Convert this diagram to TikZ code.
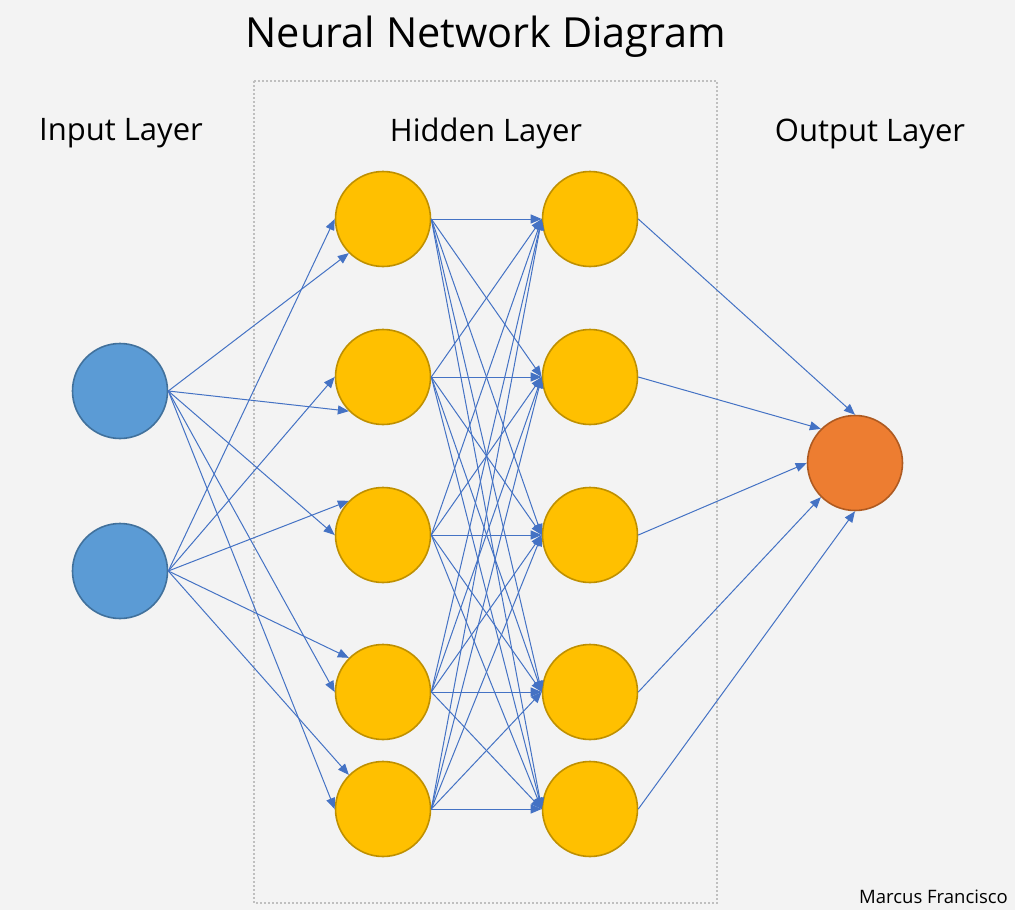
\documentclass[tikz,border=0pt]{standalone}
\usepackage{fontspec}
\setmainfont{Open Sans}
\usetikzlibrary{arrows.meta}
\definecolor{bgcol}{HTML}{F3F3F3}
\definecolor{inblue}{HTML}{5B9BD5}
\definecolor{inline}{HTML}{41719C}
\definecolor{hidgold}{HTML}{FFC000}
\definecolor{hidline}{HTML}{BF9000}
\definecolor{outorange}{HTML}{ED7D31}
\definecolor{outline}{HTML}{AE5A21}
\definecolor{linkblue}{HTML}{4472C4}
\tikzset{
x=1pt, y=-1pt, % one unit is one pixel of the sketch, y grows downwards
neuron/.style={circle, minimum size=95pt, inner sep=0pt, line width=1.6pt}, % base for every unit
input/.style={neuron, fill=inblue, draw=inline},
hidden/.style={neuron, fill=hidgold, draw=hidline},
output/.style={neuron, fill=outorange, draw=outline},
link/.style={draw=linkblue, line width=1pt, -{Triangle[length=11pt,width=9pt]}}, % weighted connection
heading/.style={font=\fontsize{31}{37}\selectfont, anchor=base, inner sep=0pt},
}

\begin{document}
\begin{tikzpicture}
        \fill[bgcol] (0,0) rectangle (1015,910);
        \draw[black!25, line width=1.5pt, dash pattern=on 2pt off 2pt] (254,81) rectangle (717,903);

        \node[anchor=base, inner sep=0pt, font=\fontsize{41.5}{48}\selectfont] (title) at (486,47) {Neural Network Diagram};
        \node[heading] (inlabel) at (121,140) {Input Layer};
        \node[heading] (hidlabel) at (486,141) {Hidden Layer};
        \node[heading] (outlabel) at (870,141) {Output Layer};
        \node[anchor=base east, inner sep=0pt, font=\fontsize{18.5}{22}\selectfont] (author) at (1008,903) {Marcus Francisco};

        % units
        \node[input] (i1) at (120,391) {};
        \node[input] (i2) at (120,571) {};
        \foreach \n/\y in {1/219, 2/377, 3/535, 4/692, 5/809} {
                \node[hidden] (a\n) at (383,\y) {};
                \node[hidden] (b\n) at (590,\y) {};
        }
        \node[output] (o) at (855,463) {};

        % input -> first hidden layer
        \foreach \n/\p/\q in {1/225/180, 2/225/180, 3/180/135, 4/180/135, 5/180/135} {
                \draw[link] (i1.east) -- (a\n.\p);
                \draw[link] (i2.east) -- (a\n.\q);
        }

        % first hidden -> second hidden layer
        \foreach \s in {1,...,5}
                \foreach \t in {1,...,5}
                        \draw[link] (a\s.east) -- (b\t.west);

        % second hidden -> output
        \foreach \n/\p in {1/90, 2/135, 3/180, 4/225, 5/270}
                \draw[link] (b\n.east) -- (o.\p);
\end{tikzpicture}
\end{document}
